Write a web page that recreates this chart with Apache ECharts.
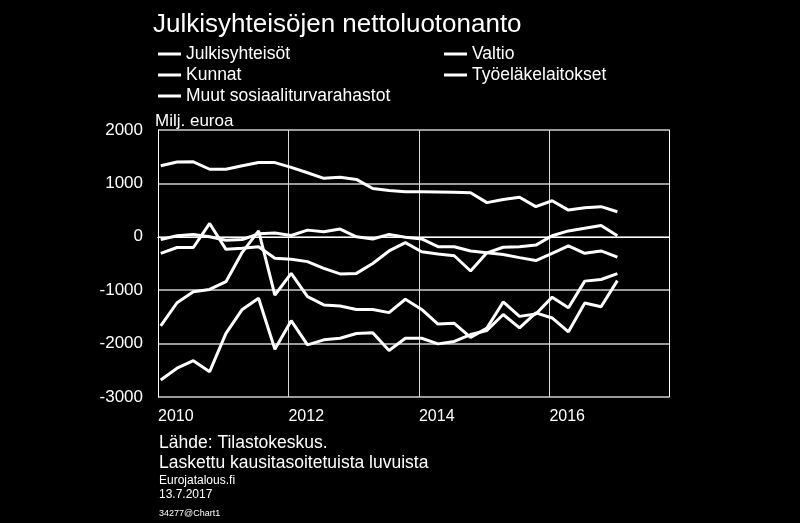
<!DOCTYPE html>
<html>
<head>
<meta charset="utf-8">
<script src="https://cdn.jsdelivr.net/npm/echarts@6/dist/echarts.min.js"></script>
<style>
html,body{margin:0;padding:0;background:#000;}
#chart{width:800px;height:523px;}
</style>
</head>
<body>
<div id="chart"></div>
<script>
// Quarters 2010Q1 .. 2017Q1
var quarters = ['2010Q1','2010Q2','2010Q3','2010Q4','2011Q1','2011Q2','2011Q3','2011Q4',
  '2012Q1','2012Q2','2012Q3','2012Q4','2013Q1','2013Q2','2013Q3','2013Q4',
  '2014Q1','2014Q2','2014Q3','2014Q4','2015Q1','2015Q2','2015Q3','2015Q4',
  '2016Q1','2016Q2','2016Q3','2016Q4','2017Q1'];

var julkisyhteisot = [-1670,-1235,-1030,-985,-840,-290,110,-1090,-685,-1120,-1275,-1295,-1360,-1360,-1420,-1170,
  -1360,-1635,-1620,-1885,-1710,-1220,-1490,-1445,-1130,-1330,-830,-800,-690];
var valtio = [-2680,-2460,-2320,-2525,-1810,-1360,-1150,-2105,-1570,-2025,-1930,-1900,-1810,-1795,-2130,-1900,
  -1900,-2005,-1960,-1830,-1755,-1455,-1705,-1425,-1520,-1780,-1240,-1310,-820];
var kunnat = [-310,-200,-200,250,-235,-215,-185,-400,-420,-465,-590,-695,-685,-500,-265,-110,
  -280,-320,-355,-640,-300,-195,-185,-155,20,110,160,210,20];
var tyoelake = [1330,1400,1405,1265,1265,1330,1390,1390,1300,1200,1095,1115,1075,905,865,845,
  845,840,835,825,640,700,740,565,675,500,545,565,470];
var muut = [-50,20,45,0,-65,-50,55,70,25,125,95,145,0,-40,45,-10,
  -40,-185,-185,-265,-300,-330,-390,-445,-310,-170,-310,-265,-380];

var yTicks = [-3000,-2000,-1000,0,1000,2000];
var xYearLabels = [2010,2012,2014,2016];

function qToX(q){
  var y = parseInt(q.slice(0,4),10);
  var n = parseInt(q.slice(5),10);
  return y + ((n-1)*3 + 0.5)/12;
}
function pairs(vals){
  return quarters.map(function(q,i){ return [qToX(q), vals[i]]; });
}

var chart = echarts.init(document.getElementById('chart'));
var lineStyle = {color:'#ffffff', width:3};
function mk(name, vals){
  return {name:name, type:'line', data:pairs(vals), showSymbol:false, symbol:'none',
    lineStyle:lineStyle, itemStyle:{color:'#ffffff'}, animation:false, z:5};
}
var font = 'Liberation Sans, Arial, sans-serif';
chart.setOption({
  backgroundColor:'#000000',
  animation:false,
  title:{text:'Julkisyhteisöjen nettoluotonanto', left:148, top:7,
    textStyle:{color:'#ffffff', fontSize:26, fontWeight:'normal', fontFamily:font}},
  legend:[
    {left:158, top:45, padding:0, orient:'vertical', itemGap:3, itemWidth:23, itemHeight:3, icon:'rect',
     data:['Julkisyhteisöt','Kunnat','Muut sosiaaliturvarahastot'],
     textStyle:{color:'#ffffff', fontSize:17.5, fontFamily:font}},
    {left:444, top:45, padding:0, orient:'vertical', itemGap:3, itemWidth:23, itemHeight:3, icon:'rect',
     data:['Valtio','Työeläkelaitokset'],
     textStyle:{color:'#ffffff', fontSize:17.5, fontFamily:font}}
  ],
  grid:{left:158, right:131, top:130, bottom:126, containLabel:false},
  xAxis:[{
    type:'value', min:2010, max:2017.833, interval:2,
    axisLine:{show:true, lineStyle:{color:'#ffffff', width:1}},
    axisTick:{show:false},
    splitLine:{show:true, lineStyle:{color:'#d8d8d8', width:1}},
    axisLabel:{color:'#ffffff', fontSize:16, fontFamily:font, align:'left', margin:12,
      showMaxLabel:false,
      formatter:function(v){ return xYearLabels.indexOf(Math.round(v))>=0 && Math.abs(v-Math.round(v))<1e-6 ? String(Math.round(v)) : ''; }}
  },{
    type:'value', position:'top', min:2010, max:2017.833,
    axisLine:{show:true, lineStyle:{color:'#ffffff', width:1}},
    axisTick:{show:false}, axisLabel:{show:false}, splitLine:{show:false}
  }],
  yAxis:[{
    type:'value', min:-3000, max:2000, interval:1000,
    axisLine:{show:true, lineStyle:{color:'#ffffff', width:1}},
    axisTick:{show:false},
    splitLine:{show:true, lineStyle:{color:'#9a9a9a', width:2}},
    axisLabel:{color:'#ffffff', fontSize:17, fontFamily:font, margin:15,
      formatter:function(v){ return yTicks.indexOf(v)>=0 ? String(v) : ''; }}
  },{
    type:'value', position:'right', min:-3000, max:2000,
    axisLine:{show:true, lineStyle:{color:'#ffffff', width:1}},
    axisTick:{show:false}, axisLabel:{show:false}, splitLine:{show:false}
  }],
  graphic:[
    {type:'text', left:155, top:113, style:{text:'Milj. euroa', fill:'#ffffff', font:'17px '+font}},
    {type:'text', left:159, top:434, style:{text:'Lähde: Tilastokeskus.', fill:'#ffffff', font:'17.5px '+font}},
    {type:'text', left:159, top:454, style:{text:'Laskettu kausitasoitetuista luvuista', fill:'#ffffff', font:'17.5px '+font}},
    {type:'text', left:159, top:475, style:{text:'Eurojatalous.fi', fill:'#ffffff', font:'12px '+font}},
    {type:'text', left:159, top:489, style:{text:'13.7.2017', fill:'#ffffff', font:'12px '+font}},
    {type:'text', left:159, top:509, style:{text:'34277@Chart1', fill:'#ffffff', font:'9px '+font}}
  ],
  series:[
    mk('Julkisyhteisöt', julkisyhteisot),
    mk('Valtio', valtio),
    mk('Kunnat', kunnat),
    mk('Työeläkelaitokset', tyoelake),
    mk('Muut sosiaaliturvarahastot', muut)
  ]
});
</script>
</body>
</html>
